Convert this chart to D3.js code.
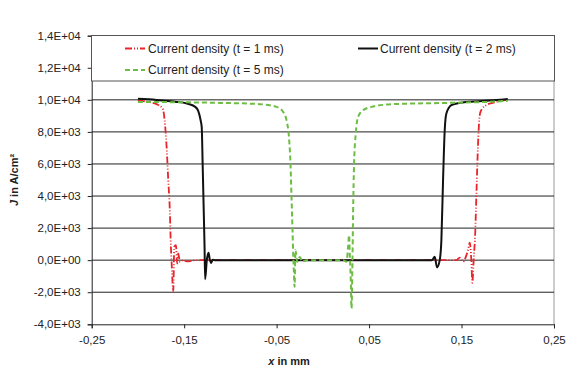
<!DOCTYPE html>
<html><head><meta charset="utf-8">
<script src="https://cdn.jsdelivr.net/npm/d3@7"></script>
<style>body{margin:0;background:#fff}svg{display:block}text{font-family:"Liberation Sans",Arial,sans-serif}</style>
</head><body><svg id="c" width="568" height="368"></svg>
<script>
const seriesNames = ["Current density (t = 1 ms)", "Current density (t = 2 ms)", "Current density (t = 5 ms)"];

const x1 = [-0.2,-0.19,-0.1798,-0.1733,-0.169,-0.1672,-0.1654,-0.1646,-0.1636,-0.1618,-0.1607,-0.1589,-0.1575,-0.1564,-0.1546,-0.151,-0.1473,-0.1365,-0.1,0,0.1,0.1444,0.148,0.1516,0.1552,0.157,0.1588,0.1606,0.1617,0.1631,0.1649,0.166,0.1671,0.1685,0.17,0.1725,0.1768,0.1877,0.1966,0.2];
const j1 = [9980,9880,9730,9460,7070,4990,2930,1250,-100,-1975,830,935,-210,415,-100,0,-80,0,0,0,0,0,160,-100,300,620,1100,0,-1415,0,1870,3950,6030,8110,9150,9460,9670,9870,9980,10020];

const x2 = [-0.2,-0.18,-0.16,-0.147,-0.138,-0.1348,-0.1322,-0.131,-0.130,-0.129,-0.128,-0.1273,-0.1255,-0.1236,-0.1225,-0.121,-0.119,-0.117,0,0.118,0.121,0.1235,0.1264,0.1282,0.130,0.1318,0.1336,0.139,0.148,0.173,0.2];
const j2 = [10060,9990,9880,9770,9560,9310,8730,8300,6000,3500,1000,-1185,0,455,100,-170,30,0,0,0,206,-455,0,1250,4990,8100,9150,9670,9810,9920,10050];

const x5 = [-0.2,-0.1113,-0.068,-0.05,-0.043,-0.0393,-0.0364,-0.035,-0.0339,-0.0328,-0.0321,-0.0314,-0.0306,-0.0296,-0.0278,-0.0249,-0.022,-0.0177,0,0.0219,0.0256,0.0273,0.0284,0.0291,0.0302,0.031,0.032,0.0327,0.0338,0.0356,0.0381,0.0435,0.0526,0.0759,0.1372,0.1948,0.2];
const j5 = [9870,9810,9730,9560,9250,8730,7480,6030,3950,1870,415,-620,-1665,625,-100,200,-100,0,0,0,-100,830,1560,400,-1250,-3010,-200,2910,6030,7900,8940,9350,9560,9730,9810,9920,9940];

const yTicks = [-4000,-2000,0,2000,4000,6000,8000,10000,12000,14000];
const yTickLabels = ["-4,0E+03","-2,0E+03","0,0E+00","2,0E+03","4,0E+03","6,0E+03","8,0E+03","1,0E+04","1,2E+04","1,4E+04"];
const xTicks = [-0.25,-0.15,-0.05,0.05,0.15,0.25];
const xTickLabels = ["-0,25","-0,15","-0,05","0,05","0,15","0,25"];

const colors = ["#e8252b","#111111","#6dbd45"];
const dashes = ["7,2,1,2,1,2", null, "5,3"];
const widths = [1.8, 2, 2];

const svg = d3.select("#c");
const L = 91.7, R = 554, T = 35.7, B = 324.3;
const x = d3.scaleLinear().domain([-0.25,0.25]).range([L,R]);
const y = d3.scaleLinear().domain([-4000,14000]).range([B,T]);

svg.append("line").attr("x1",L).attr("x2",R).attr("y1",T).attr("y2",T).attr("stroke","#999").attr("stroke-width",1);
svg.append("line").attr("x1",R).attr("x2",R).attr("y1",T).attr("y2",B).attr("stroke","#999").attr("stroke-width",1);

svg.append("g").selectAll("line").data(yTicks.filter(v=>v>-4000 && v<14000)).join("line")
  .attr("x1",L).attr("x2",R).attr("y1",d=>y(d)).attr("y2",d=>y(d)).attr("stroke","#222").attr("stroke-width",1);

const data = [[x1,j1],[x2,j2],[x5,j5]];
const line = d3.line().x(d=>x(d[0])).y(d=>y(d[1])).curve(d3.curveMonotoneX);
data.forEach((s,i)=>{
  const pts = s[0].map((v,k)=>[v,s[1][k]]);
  svg.append("path").datum(pts).attr("d",line).attr("fill","none")
    .attr("stroke",colors[i]).attr("stroke-width",widths[i])
    .attr("stroke-dasharray",dashes[i]).attr("stroke-linejoin","round");
});

const ya = svg.append("g").attr("transform",`translate(${L},0)`)
  .call(d3.axisLeft(y).tickValues(yTicks).tickFormat((d,i)=>yTickLabels[i]).tickSize(4).tickPadding(7));
const xa = svg.append("g").attr("transform",`translate(0,${B})`)
  .call(d3.axisBottom(x).tickValues(xTicks).tickFormat((d,i)=>xTickLabels[i]).tickSize(4).tickPadding(8));
[ya,xa].forEach(a=>{
  a.selectAll("path").attr("stroke","#222");
  a.selectAll("line").attr("stroke","#222");
  a.selectAll("text").attr("font-size","11.5px").attr("fill","#222").attr("font-family","'Liberation Sans',Arial,sans-serif");
});

const lg = svg.append("g");
lg.append("rect").attr("x",91.5).attr("y",35.5).attr("width",463).attr("height",45.5).attr("fill","#fff").attr("stroke","#555").attr("stroke-width",1);
const legPos = [[125,48.5],[358,48.5],[125,70]];
legPos.forEach((p,i)=>{
  lg.append("line").attr("x1",p[0]).attr("x2",p[0]+20).attr("y1",p[1]).attr("y2",p[1])
    .attr("stroke",colors[i]).attr("stroke-width",widths[i]).attr("stroke-dasharray",dashes[i]);
  lg.append("text").attr("x",p[0]+(i===1?22:23)).attr("y",p[1]+4).attr("font-size","12px").attr("fill","#222").text(seriesNames[i]);
});

const xt = svg.append("text").attr("x",289).attr("y",365).attr("text-anchor","middle").attr("font-size","11px").attr("font-weight","bold").attr("fill","#222");
xt.append("tspan").attr("font-style","italic").text("x");
xt.append("tspan").text(" in mm");
const yt = svg.append("text").attr("transform","translate(18,180) rotate(-90)").attr("text-anchor","middle").attr("font-size","11px").attr("font-weight","bold").attr("fill","#222");
yt.append("tspan").attr("font-style","italic").text("J");
yt.append("tspan").text(" in A/cm²");
</script></body></html>
